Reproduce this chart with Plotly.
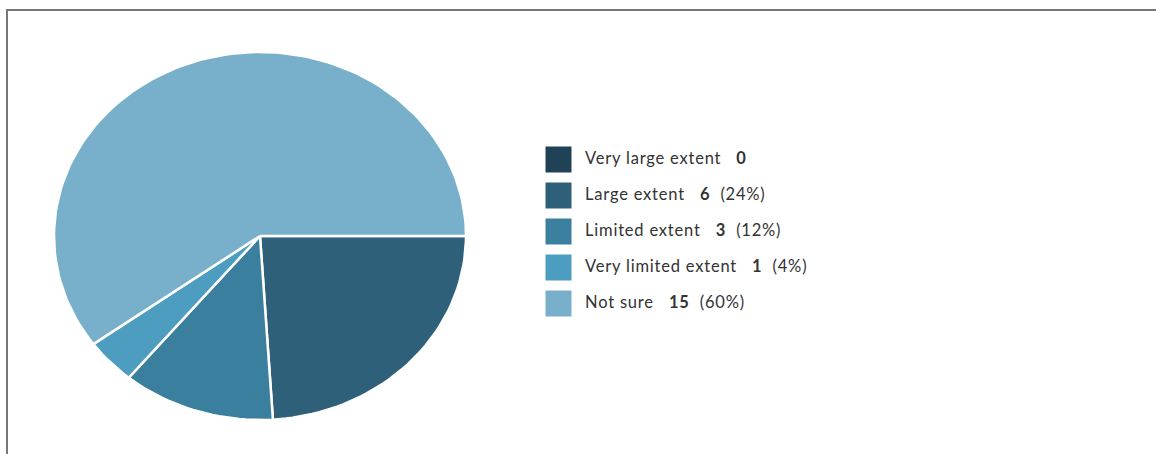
import numpy as np
import plotly.graph_objects as go

categories = ["Very large extent", "Large extent", "Limited extent", "Very limited extent", "Not sure"]
counts = [0, 6, 3, 1, 15]
colors = ["#1f4257", "#2e6179", "#3a7f9e", "#4d9dc0", "#78b0cc"]

W, H = 1156, 454
total = sum(counts)

fig = go.Figure()

# Elliptical pie: wedges drawn clockwise from 3 o'clock on a [-1, 1] axis box
start = 0.0
for name, v, c in zip(categories, counts, colors):
    if v == 0:
        continue
    sweep = 2 * np.pi * v / total
    n = max(8, int(200 * v / total))
    th = np.linspace(start, start - sweep, n)
    xs = np.concatenate([[0], np.cos(th), [0]])
    ys = np.concatenate([[0], np.sin(th), [0]])
    fig.add_trace(go.Scatter(
        x=xs, y=ys, mode="lines", fill="toself", fillcolor=c,
        line=dict(color="white", width=2.5), hoverinfo="skip", showlegend=False,
        xaxis="x", yaxis="y"))
    start -= sweep

# Legend: swatches and labels on a pixel-mapped axis pair spanning the page
labels = []
for name, v in zip(categories, counts):
    s = f"{name}\u00a0\u00a0\u00a0<b>{v}</b>"
    if v > 0:
        s += f"\u00a0\u00a0({round(100 * v / total)}%)"
    labels.append(f'<span style="letter-spacing:0.8px">{s}</span>')
rows = [159.5 + 36 * i for i in range(len(categories))]
fig.add_trace(go.Scatter(
    x=[558.5] * len(rows), y=rows, mode="markers",
    marker=dict(symbol="square", size=26, color=colors, line=dict(width=0)),
    hoverinfo="skip", showlegend=False, xaxis="x2", yaxis="y2"))
fig.add_trace(go.Scatter(
    x=[585] * len(rows), y=rows, mode="text", text=labels,
    textposition="middle right",
    textfont=dict(family="Lato", size=16.5, color="#333333"),
    hoverinfo="skip", showlegend=False, xaxis="x2", yaxis="y2"))

fig.update_layout(
    width=W, height=H,
    margin=dict(l=0, r=0, t=0, b=0),
    paper_bgcolor="white", plot_bgcolor="rgba(0,0,0,0)",
    font=dict(family="Lato", color="#333333"),
    xaxis=dict(domain=[54 / W, 466 / W], range=[-1, 1], visible=False, fixedrange=True, anchor="y"),
    yaxis=dict(domain=[(H - 420) / H, (H - 52) / H], range=[-1, 1], visible=False, fixedrange=True, anchor="x"),
    xaxis2=dict(domain=[0, 1], range=[0, W], visible=False, fixedrange=True, anchor="y2"),
    yaxis2=dict(domain=[0, 1], range=[H, 0], visible=False, fixedrange=True, anchor="x2"),
    shapes=[
        dict(type="line", xref="paper", yref="paper", x0=7 / W, x1=7 / W, y0=0, y1=(H - 9) / H,
             line=dict(color="#777777", width=2)),
        dict(type="line", xref="paper", yref="paper", x0=6 / W, x1=1, y0=(H - 10) / H, y1=(H - 10) / H,
             line=dict(color="#777777", width=2)),
    ],
)

fig.write_html("out.html")
